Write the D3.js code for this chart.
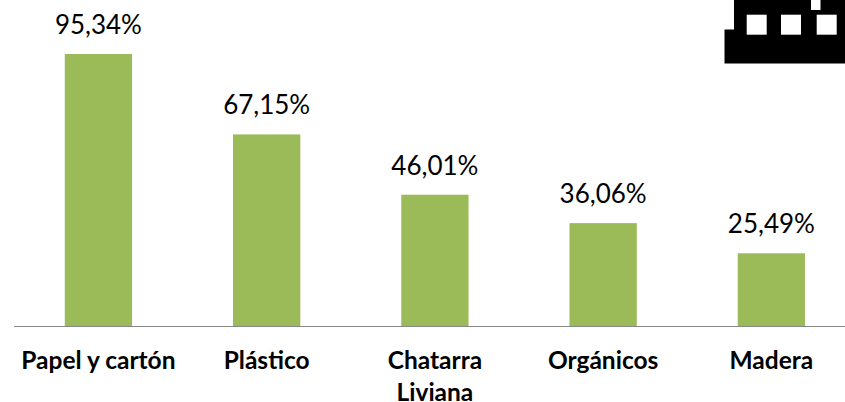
<!DOCTYPE html>
<html><head><meta charset="utf-8">
<script src="https://cdnjs.cloudflare.com/ajax/libs/d3/7.8.5/d3.min.js"></script>
<style>html,body{margin:0;padding:0;background:#fff;overflow:hidden}svg{display:block}</style>
</head><body><svg id="c" width="845" height="402"></svg>
<script>
const categories = [["Papel y cartón"],["Plástico"],["Chatarra","Liviana"],["Orgánicos"],["Madera"]];
const values = [95.34,67.15,46.01,36.06,25.49];
const valueLabels = ["95,34%","67,15%","46,01%","36,06%","25,49%"];
const svg = d3.select("#c");
const font = "Lato, Carlito, Calibri, sans-serif";
const x = d3.scaleBand().domain(d3.range(values.length)).range([14.3,855.5]).paddingInner(0.6).paddingOuter(0.3);
const y = d3.scaleLinear().domain([0,95.34]).range([326,54]);
svg.selectAll("rect.bar").data(values).join("rect").attr("class","bar")
  .attr("x",(d,i)=>x(i)).attr("width",x.bandwidth()).attr("y",d=>y(d)).attr("height",d=>y(0)-y(d)).attr("fill","#9bbb59");
svg.append("line").attr("x1",14).attr("x2",845).attr("y1",326.5).attr("y2",326.5).attr("stroke","#868686").attr("stroke-width",1.2);
svg.selectAll("text.val").data(values).join("text").attr("class","val")
  .attr("x",(d,i)=>x(i)+x.bandwidth()/2).attr("y",d=>y(d)-20).attr("text-anchor","middle")
  .attr("font-family",font).attr("font-size",26).attr("fill","#000").text((d,i)=>valueLabels[i]);
categories.forEach((lines,i)=>{
  lines.forEach((t,j)=>svg.append("text").attr("x",x(i)+x.bandwidth()/2).attr("y",369+j*32)
    .attr("text-anchor","middle").attr("font-family",font).attr("font-weight",700).attr("font-size",24.5).attr("fill","#000").text(t));
});
const iconBody = d3.path();
iconBody.moveTo(724.5,63.5);iconBody.lineTo(724.5,29.5);iconBody.lineTo(734,29.5);iconBody.lineTo(734,0);iconBody.lineTo(845,0);iconBody.lineTo(845,63.5);iconBody.closePath();
svg.append("path").attr("d",iconBody.toString()).attr("fill","#000");
const windowXs=[746.7,781,816.7];
svg.selectAll("rect.win").data(windowXs).join("rect").attr("class","win").attr("x",d=>d).attr("y",14.7).attr("width",20).attr("height",20).attr("fill","#fff");
svg.append("rect").attr("x",811).attr("y",0).attr("width",9.5).attr("height",10).attr("fill","#fff");
</script></body></html>
